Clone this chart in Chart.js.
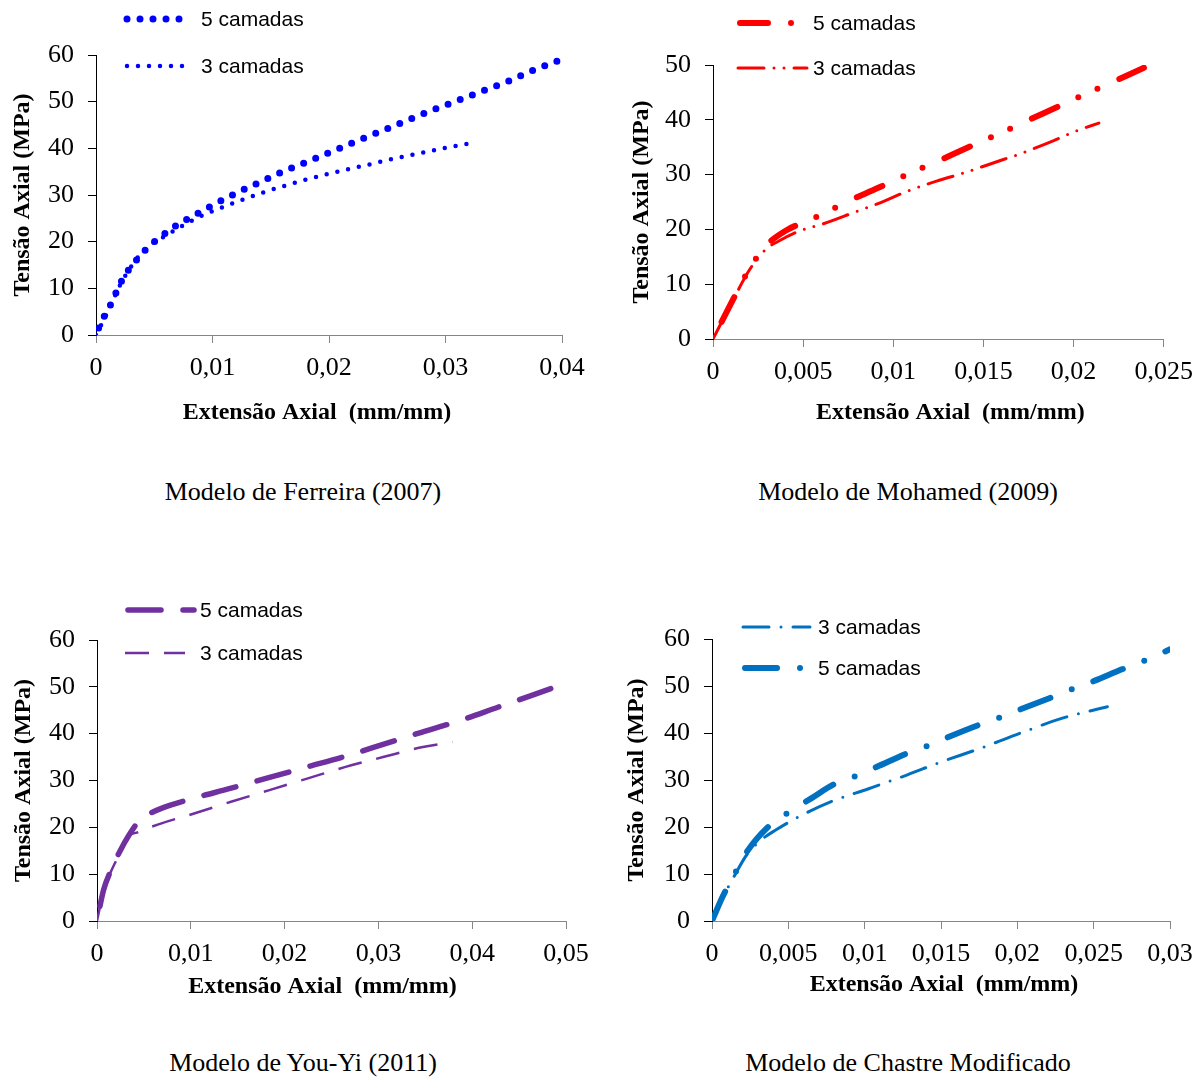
<!DOCTYPE html>
<html>
<head>
<meta charset="utf-8">
<script src="https://cdn.jsdelivr.net/npm/chart.js@4"></script>
<style>
  body { margin: 0; background: #fff; }
  #page { position: relative; width: 1203px; height: 1077px; background: #fff; }
  .box { position: absolute; }
  .caption {
    position: absolute;
    font-family: "Liberation Serif", "Times New Roman", serif;
    font-size: 26px;
    line-height: 1;
    color: #000;
    white-space: nowrap;
    transform: translateX(-50%);
  }
</style>
</head>
<body>
<div id="page">
  <div class="box" style="left:0;top:0"><canvas id="c1" width="600" height="440"></canvas></div>
  <div class="box" style="left:600px;top:0"><canvas id="c2" width="603" height="440"></canvas></div>
  <div class="box" style="left:0;top:585px"><canvas id="c3" width="600" height="420"></canvas></div>
  <div class="box" style="left:600px;top:585px"><canvas id="c4" width="603" height="420"></canvas></div>
  <div class="caption" style="left:303px;top:479px">Modelo de Ferreira (2007)</div>
  <div class="caption" style="left:908px;top:479px">Modelo de Mohamed (2009)</div>
  <div class="caption" style="left:303px;top:1050px">Modelo de You-Yi (2011)</div>
  <div class="caption" style="left:908px;top:1050px">Modelo de Chastre Modificado</div>
</div>
<script>
// Modelo de Ferreira (2007)
const ferreira5X = [0, 0.0004, 0.0011, 0.0016, 0.002, 0.0025, 0.0032, 0.0039, 0.0046, 0.0054, 0.0063, 0.0072, 0.0082, 0.0092, 0.0102, 0.0122, 0.0142, 0.0162, 0.0184, 0.0206, 0.0227, 0.0248, 0.0268, 0.029, 0.0311, 0.0333, 0.0354, 0.0374, 0.0396];
const ferreira5Y = [0, 2.6, 5.7, 8.4, 10.6, 12.9, 15.2, 17.3, 19.1, 20.8, 22.4, 24.0, 25.3, 26.7, 28.1, 30.6, 32.9, 35.2, 37.4, 39.7, 41.9, 44.0, 46.1, 48.3, 50.3, 52.4, 54.4, 56.6, 58.7];
const ferreira3X = [0, 0.0011, 0.002, 0.0033, 0.0045, 0.0062, 0.0077, 0.0093, 0.011, 0.0127, 0.0144, 0.0161, 0.0179, 0.0196, 0.0214, 0.0232, 0.0249, 0.0267, 0.0285, 0.0302, 0.032];
const ferreira3Y = [0, 5.4, 10.4, 15.7, 19.0, 21.6, 23.8, 25.8, 27.5, 29.1, 30.6, 31.9, 33.2, 34.3, 35.4, 36.4, 37.4, 38.4, 39.3, 40.2, 41.0];

// Modelo de Mohamed (2009)
const mohamed5X = [0, 0.001, 0.002, 0.0029, 0.0041, 0.0052, 0.0062, 0.0074, 0.0091, 0.0111, 0.0123, 0.0141, 0.0161, 0.0172, 0.019, 0.021, 0.0221, 0.0239];
const mohamed5Y = [0, 6.5, 12.7, 16.9, 19.9, 21.5, 23.0, 25.0, 27.5, 30.5, 32.2, 34.9, 37.8, 39.5, 42.2, 45.2, 46.8, 49.5];
const mohamed3X = [0, 0.001, 0.002, 0.0029, 0.0036, 0.0047, 0.0061, 0.0079, 0.0093, 0.0108, 0.0124, 0.014, 0.0157, 0.0172, 0.0189, 0.0201, 0.0214];
const mohamed3Y = [0, 6.4, 12.5, 16.3, 17.8, 19.6, 21.0, 23.2, 24.9, 27.0, 28.8, 30.4, 32.3, 34.0, 36.2, 37.9, 39.4];

// Modelo de You-Yi (2011)
const youyi5X = [0, 0.0007, 0.0015, 0.0025, 0.0034, 0.0045, 0.0055, 0.0068, 0.0101, 0.0142, 0.0183, 0.0224, 0.0265, 0.0305, 0.0346, 0.0387, 0.0428, 0.0485];
const youyi5Y = [0, 6.6, 10.9, 15.1, 18.3, 21.4, 22.8, 24.0, 26.1, 28.3, 30.6, 32.9, 35.2, 37.7, 40.3, 42.8, 45.7, 49.7];
const youyi3X = [0, 0.0007, 0.0015, 0.0025, 0.0031, 0.0044, 0.0068, 0.0101, 0.0142, 0.0183, 0.0224, 0.0265, 0.0305, 0.0346, 0.0379];
const youyi3Y = [0, 6.4, 10.6, 14.8, 17.6, 19.0, 20.8, 22.8, 25.4, 27.9, 30.4, 32.9, 35.0, 37.1, 38.2];

// Modelo de Chastre Modificado
const chastre5X = [0, 0.0007, 0.0015, 0.0023, 0.0037, 0.0049, 0.0065, 0.008, 0.0093, 0.0108, 0.0128, 0.014, 0.0153, 0.0173, 0.0187, 0.0201, 0.0221, 0.0234, 0.0249, 0.0269, 0.0281, 0.03];
const chastre5Y = [0, 5.2, 10.1, 14.8, 20.1, 22.9, 26.1, 29.1, 30.7, 32.8, 35.7, 37.1, 38.9, 41.5, 43.1, 44.9, 47.4, 49.1, 50.9, 53.6, 55.1, 57.8];
const chastre3X = [0, 0.0007, 0.0015, 0.0023, 0.0032, 0.0042, 0.0057, 0.0078, 0.0103, 0.0128, 0.0148, 0.0178, 0.0203, 0.0229, 0.0259];
const chastre3Y = [0, 5.0, 9.8, 14.2, 17.2, 19.4, 22.2, 25.4, 28.2, 31.1, 33.6, 37.0, 40.1, 43.1, 45.6];

// ticks
const xTicks1 = [0, 0.01, 0.02, 0.03, 0.04];
const xLabels1 = ['0', '0,01', '0,02', '0,03', '0,04'];
const xTicks2 = [0, 0.005, 0.01, 0.015, 0.02, 0.025];
const xLabels2 = ['0', '0,005', '0,01', '0,015', '0,02', '0,025'];
const xTicks3 = [0, 0.01, 0.02, 0.03, 0.04, 0.05];
const xLabels3 = ['0', '0,01', '0,02', '0,03', '0,04', '0,05'];
const xTicks4 = [0, 0.005, 0.01, 0.015, 0.02, 0.025, 0.03];
const xLabels4 = ['0', '0,005', '0,01', '0,015', '0,02', '0,025', '0,03'];
const yTicks60 = [0, 10, 20, 30, 40, 50, 60];
const yTicks50 = [0, 10, 20, 30, 40, 50];

const serif = '"Liberation Serif", "Times New Roman", serif';
const sans = '"Liberation Sans", Arial, sans-serif';
const xTitle = 'Extensão Axial  (mm/mm)';

function pts(xs, ys) {
  return xs.map((x, i) => ({ x: x, y: ys[i] }));
}

// legend drawn at fixed spots like the original sheet
const cornerLegend = {
  id: 'cornerLegend',
  afterDraw(chart, args, opts) {
    const ctx = chart.ctx;
    (opts.items || []).forEach(it => {
      const ds = chart.data.datasets[it.ds];
      ctx.save();
      ctx.strokeStyle = ds.borderColor;
      ctx.lineWidth = ds.borderWidth;
      ctx.lineCap = ds.borderCapStyle;
      ctx.setLineDash(ds.borderDash);
      ctx.beginPath();
      ctx.moveTo(it.x0, it.y);
      ctx.lineTo(it.x1, it.y);
      ctx.stroke();
      ctx.setLineDash([]);
      ctx.fillStyle = '#000';
      ctx.font = '21px ' + sans;
      ctx.textBaseline = 'middle';
      ctx.textAlign = 'left';
      ctx.fillText(ds.label, it.tx, it.y + 1);
      ctx.restore();
    });
  }
};

function makeChart(id, cfg) {
  const xAxisColor = '#868686';
  new Chart(document.getElementById(id), {
    type: 'line',
    data: { datasets: cfg.datasets },
    options: {
      responsive: false,
      animation: false,
      devicePixelRatio: 1,
      layout: { padding: { left: 0, right: cfg.right, top: cfg.top, bottom: 0 } },
      elements: { point: { radius: 0 }, line: { fill: false, borderJoinStyle: 'round' } },
      plugins: {
        legend: { display: false },
        tooltip: { enabled: false },
        cornerLegend: { items: cfg.legend }
      },
      scales: {
        x: {
          type: 'linear',
          min: 0,
          max: cfg.xTicks[cfg.xTicks.length - 1],
          afterBuildTicks: s => { s.ticks = cfg.xTicks.map(v => ({ value: v })); },
          afterFit: s => { s.height = cfg.xH; },
          ticks: {
            autoSkip: false, maxRotation: 0,
            callback: (v, i) => cfg.xLabels[i],
            color: '#000', padding: 10,
            font: { family: serif, size: 26 }
          },
          grid: { drawOnChartArea: false, drawTicks: true, tickLength: 8, color: xAxisColor },
          border: { display: true, color: xAxisColor, width: 1 },
          title: {
            display: true, text: cfg.xTitleText, color: '#000',
            font: { family: serif, size: 24, weight: 'bold' },
            padding: { top: 0, bottom: cfg.xTitlePad }
          }
        },
        y: {
          min: 0,
          max: cfg.yTicks[cfg.yTicks.length - 1],
          afterBuildTicks: s => { s.ticks = cfg.yTicks.map(v => ({ value: v })); },
          afterFit: s => { s.width = cfg.yW; },
          ticks: {
            callback: (v, i) => String(cfg.yTicks[i]),
            color: '#000', padding: 14,
            font: { family: serif, size: 26 }
          },
          grid: { drawOnChartArea: false, drawTicks: true, tickLength: 8, color: '#000' },
          border: { display: true, color: '#000', width: 1 },
          title: {
            display: true, text: 'Tensão Axial (MPa)', color: '#000',
            font: { family: serif, size: 24, weight: 'bold' },
            padding: { top: cfg.yTitlePad, bottom: 0 }
          }
        }
      }
    },
    plugins: [cornerLegend]
  });
}

function series(label, xs, ys, color, width, dash, cap, dashOffset) {
  return {
    label: label,
    data: pts(xs, ys),
    borderColor: color,
    borderWidth: width,
    borderDash: dash,
    borderDashOffset: dashOffset || 0,
    borderCapStyle: cap,
    cubicInterpolationMode: 'monotone',
    pointRadius: 0
  };
}

makeChart('c1', {
  datasets: [
    series('5 camadas', ferreira5X, ferreira5Y, '#0000ff', 7, [0, 13], 'round', 5.5),
    series('3 camadas', ferreira3X, ferreira3Y, '#0000ff', 4.5, [0, 11], 'round')
  ],
  legend: [
    { ds: 0, x0: 127, x1: 185, y: 19, tx: 201 },
    { ds: 1, x0: 127, x1: 193, y: 66, tx: 201 }
  ],
  xTicks: xTicks1, xLabels: xLabels1, yTicks: yTicks60,
  xTitleText: xTitle + '    ',
  yW: 96, xH: 105, right: 38, top: 55, yTitlePad: 8.6, xTitlePad: 12.6
});

makeChart('c2', {
  datasets: [
    series('5 camadas', mohamed5X, mohamed5Y, '#ff0000', 6, [28, 23, 0, 21, 0, 24], 'round', 77),
    series('3 camadas', mohamed3X, mohamed3Y, '#ff0000', 3, [26, 10, 0, 10, 0, 10], 'round')
  ],
  legend: [
    { ds: 0, x0: 140, x1: 200, y: 23, tx: 213 },
    { ds: 1, x0: 138, x1: 207, y: 68, tx: 213 }
  ],
  xTicks: xTicks2, xLabels: xLabels2, yTicks: yTicks50,
  xTitleText: '    ' + xTitle,
  yW: 113, xH: 101, right: 39, top: 65, yTitlePad: 27.6, xTitlePad: 12.6
});

makeChart('c3', {
  datasets: [
    series('5 camadas', youyi5X, youyi5Y, '#7030a0', 5.5, [33, 22], 'round', 40),
    series('3 camadas', youyi3X, youyi3Y, '#7030a0', 2.5, [24, 15], 'butt')
  ],
  legend: [
    { ds: 0, x0: 128, x1: 194, y: 25, tx: 200 },
    { ds: 1, x0: 125, x1: 185, y: 68, tx: 200 }
  ],
  xTicks: xTicks3, xLabels: xLabels3, yTicks: yTicks60,
  xTitleText: xTitle + '   ',
  yW: 97, xH: 84, right: 34, top: 55, yTitlePad: 9.6, xTitlePad: 3.9
});

makeChart('c4', {
  datasets: [
    series('3 camadas', chastre3X, chastre3Y, '#0070c0', 3, [26, 12, 0, 12], 'round'),
    series('5 camadas', chastre5X, chastre5Y, '#0070c0', 6, [32, 23, 0, 23], 'round')
  ],
  legend: [
    { ds: 0, x0: 143, x1: 210, y: 42, tx: 218 },
    { ds: 1, x0: 145, x1: 203, y: 83, tx: 218 }
  ],
  xTicks: xTicks4, xLabels: xLabels4, yTicks: yTicks60,
  xTitleText: ' ' + xTitle,
  yW: 112, xH: 84, right: 33, top: 54, yTitlePad: 22, xTitlePad: 5.6
});
</script>
</body>
</html>
